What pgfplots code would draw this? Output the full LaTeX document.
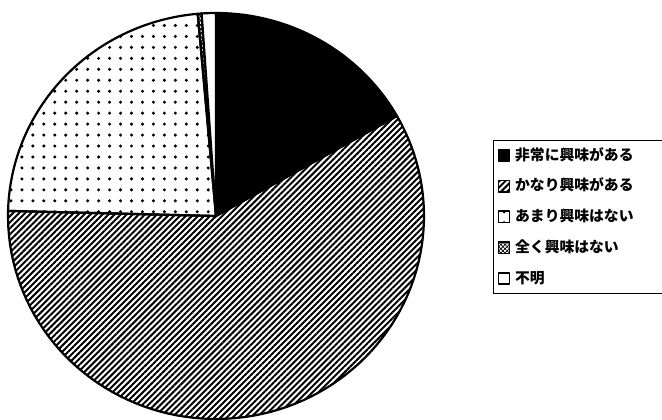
\documentclass[border=0pt]{standalone}
\usepackage{pgfplots}
\pgfplotsset{compat=1.18}
\usepackage{pgfplotstable}
\usetikzlibrary{patterns.meta}
\usepackage{fontspec}
\setmainfont{Noto Sans CJK JP}
\pgfplotstableread{
v
16.8
58.6
23.2
0.3
1.1
}\piedata
\begin{document}
\begin{tikzpicture}
\useasboundingbox (0,0) rectangle (662bp,420bp);
\pgfplotstablegetelem{0}{v}\of\piedata \let\va\pgfplotsretval
\pgfplotstablegetelem{1}{v}\of\piedata \let\vb\pgfplotsretval
\pgfplotstablegetelem{2}{v}\of\piedata \let\vc\pgfplotsretval
\pgfplotstablegetelem{3}{v}\of\piedata \let\vd\pgfplotsretval
\pgfplotstablegetelem{4}{v}\of\piedata \let\ve\pgfplotsretval
\pgfmathsetmacro\aA{90}
\pgfmathsetmacro\aB{\aA-3.6*\va}
\pgfmathsetmacro\aC{\aB-3.6*\vb}
\pgfmathsetmacro\aD{\aC-3.6*\vc}
\pgfmathsetmacro\aE{\aD-3.6*\vd}
\pgfmathsetmacro\aF{\aE-3.6*\ve}
\begin{axis}[
  at={(216bp,204bp)}, anchor=center,
  width=416bp, height=406bp, scale only axis,
  xmin=-1, xmax=1, ymin=-1, ymax=1,
  hide axis, clip=false,
  samples=90, variable=\t,
  every axis plot/.append style={draw=black, line width=2.2bp, line join=round},
  legend image code/.code={\draw[#1, draw=black, line width=1.6bp] (0bp,-5.5bp) rectangle (11bp,6bp);},
  legend style={at={(axis description cs:1.166,0.687)}, anchor=north west,
    draw=black, line width=1bp, inner xsep=4bp, inner ysep=7.5bp,
    column sep=5bp, row sep=15.8bp,
    font=\bfseries\fontsize{14.8bp}{17bp}\selectfont,
    nodes={inner sep=0pt, text height=12bp, text depth=3bp}},
  legend cell align=left,
]
\addplot[fill=black, domain=\aB:\aA] ({cos(t)},{sin(t)}) -- (axis cs:0,0) -- cycle;
\addlegendentry{非常に興味がある\hspace*{30bp}}
\addplot[pattern={Lines[angle=45,distance=4.3pt,line width=2pt]}, domain=\aC:\aB] ({cos(t)},{sin(t)}) -- (axis cs:0,0) -- cycle;
\addlegendentry{かなり興味がある}
\addplot[pattern={Dots[distance=11pt,radius=1.7pt]}, domain=\aD:\aC] ({cos(t)},{sin(t)}) -- (axis cs:0,0) -- cycle;
\addlegendentry{あまり興味はない}
\addplot[pattern={Hatch[angle=45,distance=3pt,line width=0.7pt]}, domain=\aE:\aD, samples=5] ({cos(t)},{sin(t)}) -- (axis cs:0,0) -- cycle;
\addlegendentry{全く興味はない}
\addplot[fill=white, domain=\aF:\aE, samples=10] ({cos(t)},{sin(t)}) -- (axis cs:0,0) -- cycle;
\addlegendentry{不明}
\end{axis}
\end{tikzpicture}
\end{document}
